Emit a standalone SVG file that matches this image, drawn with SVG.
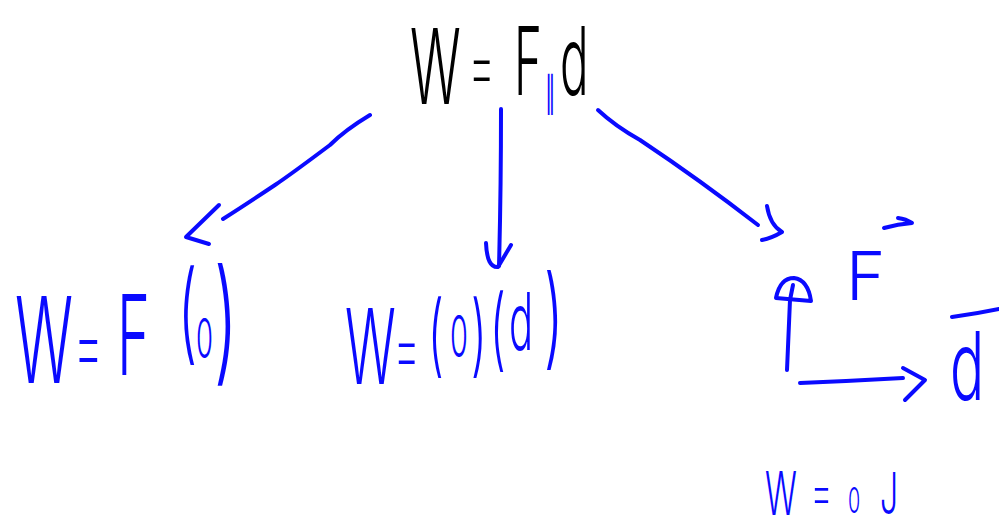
<svg xmlns="http://www.w3.org/2000/svg" width="999" height="530" viewBox="0 0 999 530">
<style>
.ink{fill:none;stroke:#0a0aff;stroke-width:4;stroke-linecap:round;stroke-linejoin:round}
.t{font-family:Inter,"Liberation Sans",Arial,sans-serif;font-weight:300}
.eq{font-weight:200}
.blue{fill:#0a0aff}
.black{fill:#000}
.sym{font-family:"DejaVu Sans",sans-serif}
</style>
<rect width="999" height="530" fill="#fff"/>
<g id="top-formula">
<text class="t black" transform="translate(410,0) scale(0.5,1)" font-size="105"><tspan x="0" y="104">W</tspan><tspan x="116" y="95" font-size="85" class="eq">=</tspan><tspan x="208" y="95" font-size="95">F</tspan><tspan x="270" y="106" font-size="42" class="blue sym">∥</tspan><tspan x="300" y="95" font-size="95">d</tspan></text>
</g>
<g id="left-formula">
<text class="t blue" transform="translate(15,0) scale(0.5,1)" font-size="120"><tspan x="0" y="383">W</tspan><tspan x="116" y="378" font-size="95" class="eq">=</tspan><tspan x="204" y="375" font-size="112">F</tspan><tspan x="326" y="350" font-size="110">(</tspan><tspan x="362" y="358" font-size="55">0</tspan><tspan x="398" y="367" font-size="135">)</tspan></text>
</g>
<g id="middle-formula">
<text class="t blue" transform="translate(345,0) scale(0.5,1)" font-size="105"><tspan x="0" y="384">W</tspan><tspan x="96" y="378" font-size="85" class="eq">=</tspan><tspan x="166" y="366" font-size="90">(</tspan><tspan x="210" y="357" font-size="58">0</tspan><tspan x="252" y="366" font-size="90">)</tspan><tspan x="290" y="360" font-size="90">(</tspan><tspan x="328" y="350" font-size="80">d</tspan><tspan x="398" y="355" font-size="110">)</tspan></text>
</g>
<g id="vector-diagram">
<text class="t blue" x="846" y="300" font-size="67">F</text>
<path class="ink" d="M884,228 Q898,224 912,223 Q906,219 898,218"/>
<text class="t blue" transform="translate(950,400) scale(0.6,1)" font-size="95">d</text>
<path class="ink" d="M952,317 Q975,314 999,309"/>
<path class="ink" d="M787,370 L790,300 L793,285"/>
<path class="ink" d="M776,298 Q780,278 794,278 Q808,280 811,301 L776,298"/>
<path class="ink" d="M800,383 Q850,381 903,378"/>
<path class="ink" d="M903,368 L925,380 L905,400"/>
</g>
<g id="result">
<text class="t blue" transform="translate(765,0) scale(0.55,1)" font-size="60"><tspan x="0" y="515">W</tspan><tspan x="82" y="514" font-size="65" class="eq">=</tspan><tspan x="151" y="513" font-size="36">0</tspan><tspan x="209" y="514" font-size="58">J</tspan></text>
</g>
<g id="connectors">
<path class="ink" d="M370,115 Q345,130 330,145 Q290,175 275,185 Q245,205 223,219"/>
<path class="ink" d="M219,205 L186,237 L209,244"/>
<path class="ink" d="M501,109 Q501,190 499,266"/>
<path class="ink" d="M486,243 Q487,268 498,267 L511,245"/>
<path class="ink" d="M598,110 Q615,126 640,140 Q700,180 758,225"/>
<path class="ink" d="M767,206 Q770,225 782,232 Q772,238 762,240"/>
</g>
</svg>
